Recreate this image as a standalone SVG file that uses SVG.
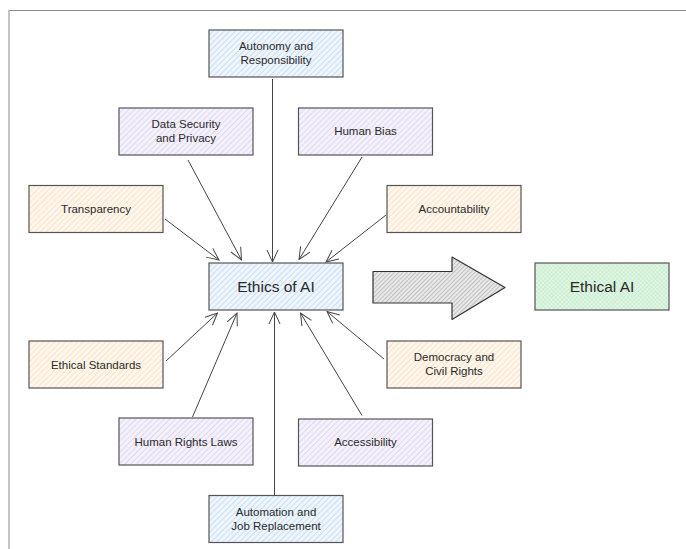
<svg xmlns="http://www.w3.org/2000/svg" width="686" height="549" viewBox="0 0 686 549">
<style>
.box{stroke:#555;stroke-width:1.2}
.blue{fill:url(#hBlue)}
.purple{fill:url(#hPurple)}
.orange{fill:url(#hOrange)}
.green{fill:url(#hGreen)}
.lbl{font-family:"Liberation Sans",Arial,sans-serif;font-size:11.5px;fill:#2a2a2a;text-anchor:middle}
.big{font-size:15.5px}
.conn line{stroke:#444;stroke-width:1;fill:none}
</style>
<defs>
<pattern id="hBlue" patternUnits="userSpaceOnUse" width="4" height="4" patternTransform="rotate(45)">
<rect width="4" height="4" fill="#eef5fd"/><line x1="0" y1="0" x2="0" y2="4" stroke="#bcd6f2" stroke-width="1.4"/>
</pattern>
<pattern id="hPurple" patternUnits="userSpaceOnUse" width="4" height="4" patternTransform="rotate(45)">
<rect width="4" height="4" fill="#f5f1fb"/><line x1="0" y1="0" x2="0" y2="4" stroke="#d8cdf0" stroke-width="1.4"/>
</pattern>
<pattern id="hOrange" patternUnits="userSpaceOnUse" width="4" height="4" patternTransform="rotate(45)">
<rect width="4" height="4" fill="#fff6ec"/><line x1="0" y1="0" x2="0" y2="4" stroke="#f9ddbf" stroke-width="1.4"/>
</pattern>
<pattern id="hGreen" patternUnits="userSpaceOnUse" width="3" height="3" patternTransform="rotate(45)">
<rect width="3" height="3" fill="#e3f7e6"/><line x1="0" y1="0" x2="0" y2="3" stroke="#b9e8c2" stroke-width="1"/><line x1="0" y1="0" x2="3" y2="0" stroke="#b9e8c2" stroke-width="1"/>
</pattern>
<pattern id="hGray" patternUnits="userSpaceOnUse" width="3" height="3" patternTransform="rotate(45)">
<rect width="3" height="3" fill="#e8e8e8"/><line x1="0" y1="0" x2="0" y2="3" stroke="#9a9a9a" stroke-width="1"/>
</pattern>
<marker id="open" viewBox="0 0 14 14" refX="13" refY="7" markerWidth="14" markerHeight="14" markerUnits="userSpaceOnUse" orient="auto">
<path d="M1,1.5 L13,7 L1,12.5" fill="none" stroke="#444" stroke-width="1"/>
</marker>
</defs>
<rect x="9" y="10.5" width="700" height="560" fill="#fff" stroke="#8a8a8a" stroke-width="1"/>

<g id="connectors" class="conn">
<line x1="272.5" y1="79" x2="272.5" y2="262" marker-end="url(#open)"/>
<line x1="188" y1="160" x2="241.5" y2="260" marker-end="url(#open)"/>
<line x1="362" y1="157" x2="299" y2="259.5" marker-end="url(#open)"/>
<line x1="165" y1="219" x2="219" y2="260" marker-end="url(#open)"/>
<line x1="386" y1="215" x2="326" y2="262" marker-end="url(#open)"/>
<line x1="166" y1="361" x2="217.5" y2="313" marker-end="url(#open)"/>
<line x1="192.5" y1="417" x2="237" y2="313" marker-end="url(#open)"/>
<line x1="274.5" y1="495" x2="274.5" y2="312" marker-end="url(#open)"/>
<line x1="362" y1="415.5" x2="300.5" y2="313" marker-end="url(#open)"/>
<line x1="384" y1="359" x2="327" y2="311.5" marker-end="url(#open)"/>
</g>

<g id="bigArrow">
<path d="M373,271.5 L452,271.5 L452,257 L505,287.5 L452,319.5 L452,303 L373,303 Z" fill="url(#hGray)" stroke="#333" stroke-width="1.2" stroke-linejoin="round"/>
</g>

<g id="autonomy"><rect class="box blue" x="209" y="30" width="134" height="47"/><text class="lbl" x="276" y="50">Autonomy and</text><text class="lbl" x="276" y="64">Responsibility</text></g>
<g id="dataSecurity"><rect class="box purple" x="119" y="108" width="134" height="47"/><text class="lbl" x="186" y="128">Data Security</text><text class="lbl" x="186" y="142">and Privacy</text></g>
<g id="humanBias"><rect class="box purple" x="298.5" y="108" width="134" height="47"/><text class="lbl" x="365.5" y="135">Human Bias</text></g>
<g id="transparency"><rect class="box orange" x="29" y="185.5" width="134" height="47"/><text class="lbl" x="96" y="213">Transparency</text></g>
<g id="accountability"><rect class="box orange" x="387" y="185.5" width="134" height="47"/><text class="lbl" x="454" y="213">Accountability</text></g>
<g id="ethicsOfAI"><rect class="box blue" x="209" y="263" width="134" height="47"/><text class="lbl big" x="276" y="292">Ethics of AI</text></g>
<g id="ethicalAI"><rect class="box green" x="535" y="263" width="134" height="47"/><text class="lbl big" x="602" y="292">Ethical AI</text></g>
<g id="ethicalStandards"><rect class="box orange" x="29" y="341" width="134" height="47"/><text class="lbl" x="96" y="368.5">Ethical Standards</text></g>
<g id="democracy"><rect class="box orange" x="387" y="341" width="134" height="47"/><text class="lbl" x="454" y="361">Democracy and</text><text class="lbl" x="454" y="375">Civil Rights</text></g>
<g id="humanRights"><rect class="box purple" x="119" y="418" width="134" height="47"/><text class="lbl" x="186" y="446">Human Rights Laws</text></g>
<g id="accessibility"><rect class="box purple" x="298.5" y="419" width="134" height="47"/><text class="lbl" x="365.5" y="446">Accessibility</text></g>
<g id="automation"><rect class="box blue" x="209" y="495.5" width="134" height="47"/><text class="lbl" x="276" y="516">Automation and</text><text class="lbl" x="276" y="530">Job Replacement</text></g>
</svg>
